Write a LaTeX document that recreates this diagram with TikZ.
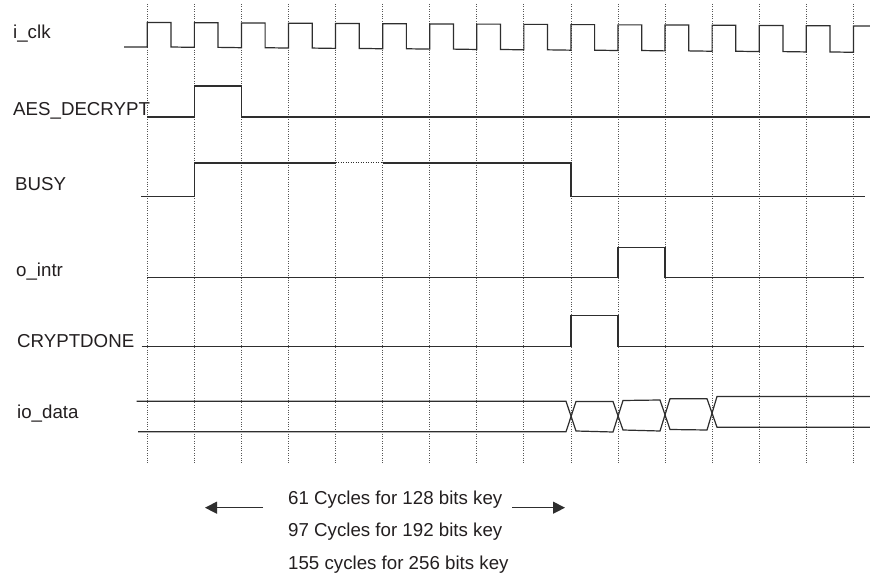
\documentclass[tikz,border=0pt]{standalone}
\usepackage{fontspec}
\setmainfont{Liberation Sans}
\usetikzlibrary{arrows.meta}
\definecolor{sig}{HTML}{2E2E2E}
\definecolor{txt}{HTML}{231F20}
\definecolor{grd}{HTML}{555555}
\begin{document}
\begin{tikzpicture}[x=1pt,y=-1pt,
  lbl/.style={anchor=base west,inner sep=0pt,text=txt,font=\fontsize{18.7}{20}\selectfont},
  wave/.style={draw=sig,line width=1.2pt,line join=miter},
  gridline/.style={draw=grd,line width=0.8pt,dash pattern=on 1pt off 1.4pt},
  arr/.style={draw=sig,line width=1.1pt,-{Triangle[length=12pt,width=12pt]}}]
\useasboundingbox[fill=white] (0,0) rectangle (870,577);
% grid
\foreach \i in {0,...,15}{
  \pgfmathsetmacro{\gx}{147.3+47.07*\i}
  \draw[gridline] (\gx,4) -- (\gx,463);
}
% labels
\node[lbl] (lclk) at (13,38.5) {i\_clk};
\node[lbl] (laes) at (13,115.5) {AES\_DECRYPT};
\node[lbl] (lbusy) at (15,191) {BUSY};
\node[lbl] (lintr) at (16,276.5) {o\_intr};
\node[lbl] (lcd) at (17,348) {CRYPTDONE};
\node[lbl] (lio) at (17,418.3) {io\_data};
% clock
\draw[wave] (124,47) -- (147.3,47)
  \foreach \i in {0,...,14}{
    -- ({147.3+47.07*\i},{47+0.0075*47.07*\i}) -- ({147.3+47.07*\i},{22.5+0.005*47.07*\i})
    -- ({171.0+47.07*\i},{22.5+0.005*47.07*\i}) -- ({171.0+47.07*\i},{47+0.0075*47.07*\i})
  } -- (853.4,{47+0.0075*47.07*15}) -- (853.4,{22.5+0.005*47.07*15}) -- (870,{22.5+0.005*47.07*15});
% AES_DECRYPT
\draw[wave] (147,117) -- (194.4,117) -- (194.4,86) -- (241.5,86) -- (241.5,117) -- (870,117);
% BUSY
\draw[wave] (141,196.7) -- (194.4,196.7) -- (194.4,163) -- (335.6,163);
\draw[draw=sig,line width=1pt,dash pattern=on 1pt off 1.5pt] (335.6,163) -- (382.6,163);
\draw[wave] (382.6,163) -- (570.9,163) -- (570.9,196.7) -- (865,196.7);
% o_intr
\draw[wave] (147,277.7) -- (618,277.7) -- (618,247.7) -- (665,247.7) -- (665,277.7) -- (864,277.7);
% CRYPTDONE
\draw[wave] (141.7,346.5) -- (570.9,346.5) -- (570.9,315.7) -- (618,315.7) -- (618,346.5) -- (864,346.5);
% io_data
\draw[wave] (136.7,401.2) -- (566,401.2) -- (576,431) -- (613,432) -- (623,400.5) -- (660,400) -- (670,429.5) -- (707,430) -- (717,396.5) -- (870,396.5);
\draw[wave] (138,431.7) -- (566,431.7) -- (576,401.5) -- (613,401.5) -- (623,430) -- (660,431) -- (670,398.7) -- (707,398.7) -- (717,427.3) -- (870,427.3);
% annotation
\node[lbl] (t1) at (288,504) {61 Cycles for 128 bits key};
\node[lbl] (t2) at (288,536.7) {97 Cycles for 192 bits key};
\node[lbl] (t3) at (288,569.3) {155 cycles for 256 bits key};
\coordinate (la) at (263,507.7);
\coordinate (lb) at (205,507.7);
\coordinate (ra) at (512,507.7);
\coordinate (rb) at (565,507.7);
\draw[arr] (la) -- (lb);
\draw[arr] (ra) -- (rb);
\end{tikzpicture}
\end{document}
